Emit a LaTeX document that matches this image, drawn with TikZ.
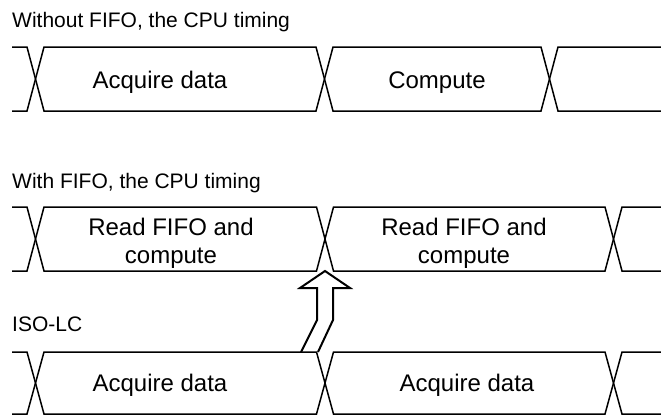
\documentclass[tikz,border=0pt]{standalone}
\usepackage{fontspec}
\setmainfont{Liberation Sans}
\begin{document}
\begin{tikzpicture}[x=1pt, y=-1pt,
  bus/.style={draw, line width=1.5pt, line join=miter},
  hollow/.style={draw, line width=2pt, line join=miter},
  lbl/.style={font=\fontsize{24}{28}\selectfont, anchor=base, align=center, inner sep=0pt},
  ttl/.style={font=\fontsize{21}{25}\selectfont, anchor=base west, inner sep=0pt}]
\useasboundingbox (0,0) rectangle (661,416);

% bus rows: top, bottom, three transition centres
\foreach \T/\B/\a/\b/\c in {47/111/35.5/324.5/549.5, 207/271/35.5/325/613.5, 352/414/35.5/325/613.5}{
  \path[bus] (12,\T) -- (\a-8.5,\T) -- (\a+8.5,\B) -- (\b-8.5,\B) -- (\b+8.5,\T)
             -- (\c-8.5,\T) -- (\c+8.5,\B) -- (661,\B);
  \path[bus] (12,\B) -- (\a-8.5,\B) -- (\a+8.5,\T) -- (\b-8.5,\T) -- (\b+8.5,\B)
             -- (\c-8.5,\B) -- (\c+8.5,\T) -- (661,\T);
}

% titles
\node[ttl] (t1) at (12,27) {Without FIFO, the CPU timing};
\node[ttl] (t2) at (12,188) {With FIFO, the CPU timing};
\node[ttl] (t3) at (12,331) {ISO-LC};

% row labels (multi-line nodes sit on the baseline of their last line)
\node[lbl] (a1) at (160,88) {Acquire data};
\node[lbl] (c1) at (437,88) {Compute};
\node[lbl] (r1) at (171,263) {Read FIFO and\\compute};
\node[lbl] (r2) at (464,263) {Read FIFO and\\compute};
\node[lbl] (a2) at (160,391) {Acquire data};
\node[lbl] (a3) at (467,391) {Acquire data};

% hollow arrow from ISO-LC to the CPU transition
\path[hollow] (301,352) -- (317,320) -- (317,288) -- (300,288) -- (325,271)
  -- (350,288) -- (333,288) -- (333,320) -- (318,352);
\end{tikzpicture}
\end{document}
